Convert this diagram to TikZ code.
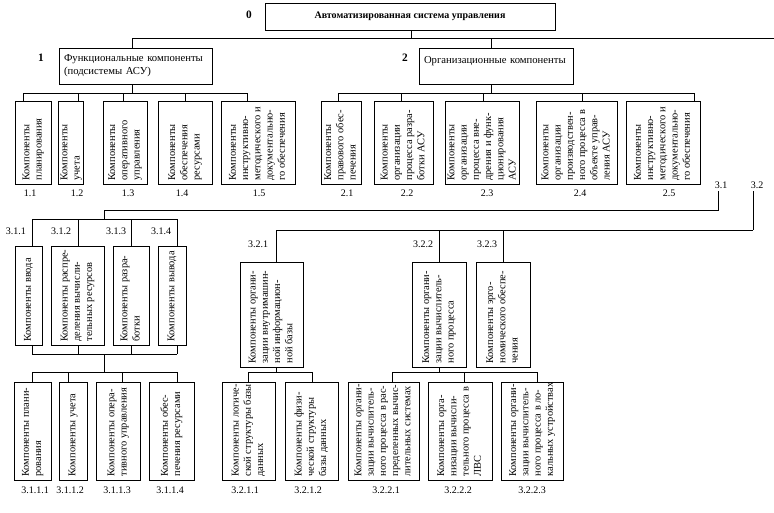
\documentclass[tikz,border=0pt]{standalone}
\usepackage{fontspec}
\setmainfont{Liberation Serif}
\usepackage{graphicx}
\tikzset{
  box/.style={draw, line width=0.7pt, inner sep=0pt, font=\fontsize{7.8}{9.2}\selectfont},
  num/.style={font=\fontsize{7.5}{9}\selectfont, inner sep=2pt},
  bnum/.style={font=\bfseries\fontsize{8.5}{10}\selectfont, inner sep=0pt},
  ln/.style={line width=0.7pt},
}
% vertical-text box: name, x1, y1, x2, y2, text
\newcommand{\vbx}[6]{%
  \pgfmathsetlengthmacro\vbxw{(#5-#3-7)*0.75pt}%
  \node[box, minimum width={(#4-#2)*0.75pt}, minimum height={(#5-#3)*0.75pt}]
    (#1) at ({(#2+#4)/2},{(#3+#5)/2})
    {\rotatebox{90}{\parbox{\vbxw}{\noindent\begin{tabular}{@{}l@{}}#6\end{tabular}}}};}
% horizontal box: name, x1, y1, x2, y2, style, text
\newcommand{\hbx}[7]{%
  \node[box, minimum width={(#4-#2)*0.75pt}, minimum height={(#5-#3)*0.75pt}, #6]
    (#1) at ({(#2+#4)/2},{(#3+#5)/2}) {#7};}
% drop from bus coordinate to node top / bottom
\newcommand{\dtop}[4]{\coordinate (#1) at (#2,#3); \draw[ln] (#1) -- (#1 |- #4.north);}
\newcommand{\dbot}[4]{\coordinate (#1) at (#2,#3); \draw[ln] (#1) -- (#1 |- #4.south);}
\begin{document}
\begin{tikzpicture}[x=0.75pt,y=-0.75pt]
\useasboundingbox (0,0) rectangle (774,512);

% ---------- level 0 / 1 ----------
\hbx{n0}{265}{3}{555}{30}{font=\bfseries\fontsize{7.5}{9}\selectfont}{Автоматизированная система управления}
\node[bnum] (l0) at (249,15) {0};
\hbx{n1}{59}{48}{212}{84}{align=left, text width={(153-10)*0.75pt}, font=\fontsize{8}{9.8}\selectfont}{Функциональные компоненты\\(подсистемы АСУ)}
\node[bnum] (l1) at (41,58) {1};
\hbx{n2}{419}{48}{573}{84}{align=left, text width={(154-10)*0.75pt}, font=\fontsize{8}{9.8}\selectfont}{Организационные компоненты\\\mbox{}}
\node[bnum] (l2) at (405,58) {2};

\coordinate (j0) at (411,38);
\coordinate (jL) at (132,38);
\coordinate (jR) at (774,38);
\coordinate (j2) at (491,38);
\draw[ln] (n0.south -| j0) -- (j0);
\draw[ln] (jL) -- (jR);
\draw[ln] (jL) -- (jL |- n1.north);
\draw[ln] (j2) -- (j2 |- n2.north);

% ---------- level 1.x ----------
\vbx{n11}{15}{101}{51}{184}{Компоненты\\планирования}
\vbx{n12}{59}{101}{83}{184}{Компоненты\\учета}
\vbx{n13}{103}{101}{147}{184}{Компоненты\\оперативного\\управления}
\vbx{n14}{158}{101}{212}{184}{Компоненты\\обеспечения\\ресурсами}
\vbx{n15}{221}{101}{295}{184}{Компоненты\\инструктивно-\\методического и\\документально-\\го обеспечения}

\node[num] (l11) at (30,193) {1.1};
\node[num] (l12) at (77,193) {1.2};
\node[num] (l13) at (128,193) {1.3};
\node[num] (l14) at (182,193) {1.4};
\node[num] (l15) at (259,193) {1.5};

\coordinate (b1) at (132,93);
\draw[ln] (n1.south -| b1) -- (b1);
\dtop{d11}{23}{93}{n11}
\dtop{d12}{78}{93}{n12}
\dtop{d13}{123}{93}{n13}
\dtop{d14}{185}{93}{n14}
\dtop{d15}{247}{93}{n15}
\draw[ln] (d11) -- (d15);

% ---------- level 2.x ----------
\vbx{n21}{321}{101}{361}{184}{Компоненты\\правового обес-\\печения}
\vbx{n22}{374}{101}{433}{184}{Компоненты\\организации\\процесса разра-\\ботки АСУ}
\vbx{n23}{447}{101}{518}{184}{Компоненты\\организации\\процесса вне-\\дрения и функ-\\ционирования\\АСУ}
\vbx{n24}{536}{101}{617}{184}{Компоненты\\организации\\производствен-\\ного процесса в\\объекте управ-\\ления АСУ}
\vbx{n25}{626}{101}{700}{184}{Компоненты\\инструктивно-\\методического и\\документально-\\го обеспечения}

\node[num] (l21) at (347,193) {2.1};
\node[num] (l22) at (407,193) {2.2};
\node[num] (l23) at (487,193) {2.3};
\node[num] (l24) at (580,193) {2.4};
\node[num] (l25) at (669,193) {2.5};

\coordinate (b2) at (491,93);
\draw[ln] (n2.south -| b2) -- (b2);
\dtop{d21}{338}{93}{n21}
\dtop{d22}{401}{93}{n22}
\dtop{d23}{483}{93}{n23}
\dtop{d24}{582}{93}{n24}
\dtop{d25}{694}{93}{n25}
\draw[ln] (d21) -- (d25);

% ---------- 3.1 / 3.2 ----------
\node[num] (l31) at (721,185) {3.1};
\node[num] (l32) at (757,185) {3.2};

% group 3.1
\vbx{n311}{15}{246}{42}{345}{Компоненты ввода}
\vbx{n312}{51}{246}{104}{345}{Компоненты распре-\\деления вычисли-\\тельных ресурсов}
\vbx{n313}{113}{246}{149}{345}{Компоненты разра-\\ботки}
\vbx{n314}{158}{246}{186}{345}{Компоненты вывода}

\node[num] (l311) at (16,231) {3.1.1};
\node[num] (l312) at (61,231) {3.1.2};
\node[num] (l313) at (116,231) {3.1.3};
\node[num] (l314) at (161,231) {3.1.4};

\coordinate (k31a) at (718,210);
\coordinate (k31b) at (104,210);
\coordinate (k31c) at (104,219);
\draw[ln] (l31.south -| k31a) -- (k31a) -- (k31b) -- (k31c);
\dtop{d311}{32}{219}{n311}
\dtop{d312}{78}{219}{n312}
\dtop{d313}{131}{219}{n313}
\dtop{d314}{177}{219}{n314}
\draw[ln] (d311) -- (d314);

\dbot{u311}{32}{354}{n311}
\dbot{u312}{78}{354}{n312}
\dbot{u313}{131}{354}{n313}
\dbot{u314}{177}{354}{n314}
\draw[ln] (u311) -- (u314);

\vbx{n3111}{14}{382}{51}{480}{Компоненты плани-\\рования}
\vbx{n3112}{59}{382}{87}{480}{Компоненты учета}
\vbx{n3113}{96}{382}{140}{480}{Компоненты опера-\\тивного управления}
\vbx{n3114}{149}{382}{194}{480}{Компоненты обес-\\печения ресурсами}

\node[num] (l3111) at (35,490) {3.1.1.1};
\node[num] (l3112) at (70,490) {3.1.1.2};
\node[num] (l3113) at (117,490) {3.1.1.3};
\node[num] (l3114) at (170,490) {3.1.1.4};

\coordinate (k31d) at (104,354);
\coordinate (k31e) at (104,372);
\draw[ln] (k31d) -- (k31e);
\dtop{d3111}{32}{372}{n3111}
\dtop{d3112}{68}{372}{n3112}
\dtop{d3113}{122}{372}{n3113}
\dtop{d3114}{177}{372}{n3114}
\draw[ln] (d3111) -- (d3114);

% group 3.2
\vbx{n321}{240}{262}{303}{367}{Компоненты органи-\\зации внутримашин-\\ной информацион-\\ной базы}
\vbx{n322}{412}{262}{466}{367}{Компоненты органи-\\зации вычислитель-\\ного процесса}
\vbx{n323}{476}{262}{530}{367}{Компоненты эрго-\\номического обеспе-\\чения}

\node[num] (l321) at (258,244) {3.2.1};
\node[num] (l322) at (423,244) {3.2.2};
\node[num] (l323) at (487,244) {3.2.3};

\coordinate (k32a) at (753,230);
\draw[ln] (l32.south -| k32a) -- (k32a);
\dtop{d321}{276}{230}{n321}
\dtop{d322}{439}{230}{n322}
\dtop{d323}{503}{230}{n323}
\draw[ln] (d321) -- (k32a);

\vbx{n3211}{222}{382}{275}{480}{Компоненты логиче-\\ской структуры базы\\данных}
\vbx{n3212}{285}{382}{338}{480}{Компоненты физи-\\ческой структуры\\базы данных}
\vbx{n3221}{348}{382}{419}{480}{Компоненты органи-\\зации вычислитель-\\ного процесса в рас-\\пределенных вычис-\\лительных системах}
\vbx{n3222}{428}{382}{492}{480}{Компоненты орга-\\низации вычисли-\\тельного процесса в\\ЛВС}
\vbx{n3223}{501}{382}{563}{480}{Компоненты органи-\\зации вычислитель-\\ного процесса в ло-\\кальных устройствах}

\node[num] (l3211) at (245,490) {3.2.1.1};
\node[num] (l3212) at (308,490) {3.2.1.2};
\node[num] (l3221) at (386,490) {3.2.2.1};
\node[num] (l3222) at (458,490) {3.2.2.2};
\node[num] (l3223) at (532,490) {3.2.2.3};

\dbot{u321}{276}{372}{n321}
\dtop{d3211}{248}{372}{n3211}
\dtop{d3212}{312}{372}{n3212}
\draw[ln] (d3211) -- (d3212);

\dbot{u322}{439}{372}{n322}
\dtop{d3221}{392}{372}{n3221}
\dtop{d3222}{464}{372}{n3222}
\dtop{d3223}{537}{372}{n3223}
\draw[ln] (d3221) -- (d3223);

\end{tikzpicture}
\end{document}
